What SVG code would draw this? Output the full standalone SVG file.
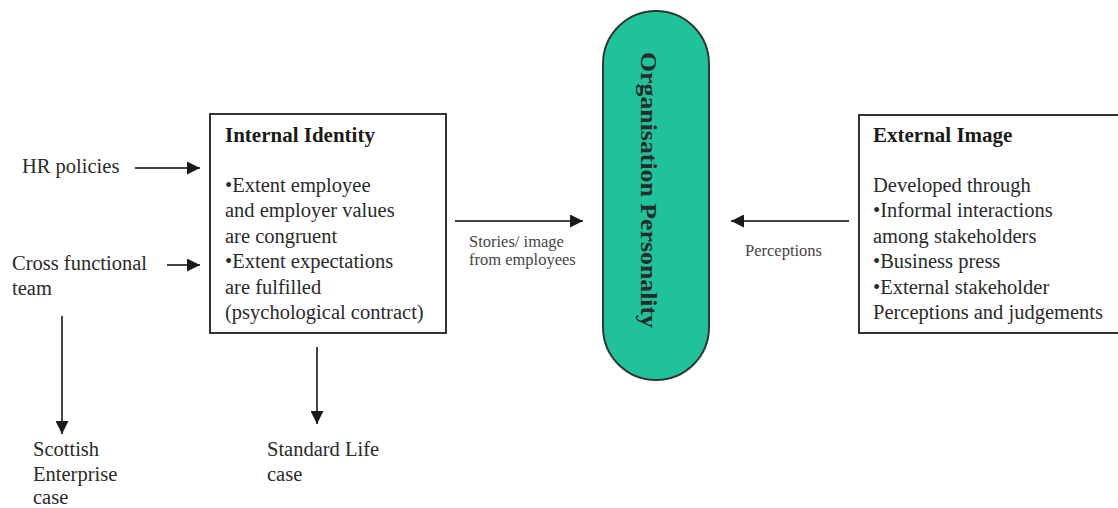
<svg xmlns="http://www.w3.org/2000/svg" width="1118" height="508" viewBox="0 0 1118 508">
<defs>
<marker id="ah" markerUnits="userSpaceOnUse" markerWidth="14" markerHeight="13" refX="13" refY="6.5" orient="auto">
<path d="M0,0 L13,6.5 L0,13 Z" fill="#1a1a1a"/>
</marker>
<style>
text{font-family:"Liberation Serif","Times New Roman",serif;fill:#2a2a2a}
.t{font-size:20.5px}
.b{font-size:21px;font-weight:bold;fill:#1a1a1a}
.s{font-size:16.5px;fill:#444}
.box{fill:#fff;stroke:#333;stroke-width:2}
.c{stroke:#444;stroke-width:2;fill:none;marker-end:url(#ah)}
</style>
</defs>
<rect width="1118" height="508" fill="#fff"/>
<g id="connectors">
<line class="c" x1="135" y1="168" x2="200" y2="168"/>
<line class="c" x1="167" y1="265" x2="200" y2="265"/>
<line class="c" x1="455" y1="221" x2="583" y2="221"/>
<line class="c" x1="849" y1="221" x2="731" y2="221"/>
<line class="c" x1="62" y1="316" x2="62" y2="434"/>
<line class="c" x1="317" y1="347" x2="317" y2="424"/>
</g>
<g id="hr-policies"><text class="t" x="22" y="173">HR policies</text></g>
<g id="cross-functional"><text class="t" x="12" y="270">Cross functional</text><text class="t" x="12" y="295">team</text></g>
<g id="internal-identity">
<rect class="box" x="210" y="114" width="236" height="219"/>
<text class="b" x="225" y="142">Internal Identity</text>
<text class="t" x="225" y="192">•Extent employee</text>
<text class="t" x="225" y="217">and employer values</text>
<text class="t" x="225" y="243">are congruent</text>
<text class="t" x="225" y="268">•Extent expectations</text>
<text class="t" x="225" y="294">are fulfilled</text>
<text class="t" x="225" y="319">(psychological contract)</text>
</g>
<g id="stories-label"><text class="s" x="469" y="247">Stories/ image</text><text class="s" x="469" y="265">from employees</text></g>
<g id="organisation-personality">
<rect x="603" y="11" width="106" height="369" rx="53" ry="53" fill="#20c29b" stroke="#2d3a33" stroke-width="2"/>
<text transform="translate(641,190) rotate(90)" x="0" y="0" text-anchor="middle" font-size="23" font-weight="bold" fill="#1a1a1a" textLength="276" lengthAdjust="spacingAndGlyphs">Organisation Personality</text>
</g>
<g id="perceptions-label"><text class="s" x="745" y="256">Perceptions</text></g>
<g id="external-image">
<rect class="box" x="859" y="115" width="270" height="218"/>
<text class="b" x="873" y="142">External Image</text>
<text class="t" x="873" y="192">Developed through</text>
<text class="t" x="873" y="217">•Informal interactions</text>
<text class="t" x="873" y="243">among stakeholders</text>
<text class="t" x="873" y="268">•Business press</text>
<text class="t" x="873" y="294">•External stakeholder</text>
<text class="t" x="873" y="319">Perceptions and judgements</text>
</g>
<g id="scottish-enterprise"><text class="t" x="33" y="456">Scottish</text><text class="t" x="33" y="481">Enterprise</text><text class="t" x="33" y="504">case</text></g>
<g id="standard-life"><text class="t" x="267" y="456">Standard Life</text><text class="t" x="267" y="481">case</text></g>
</svg>
